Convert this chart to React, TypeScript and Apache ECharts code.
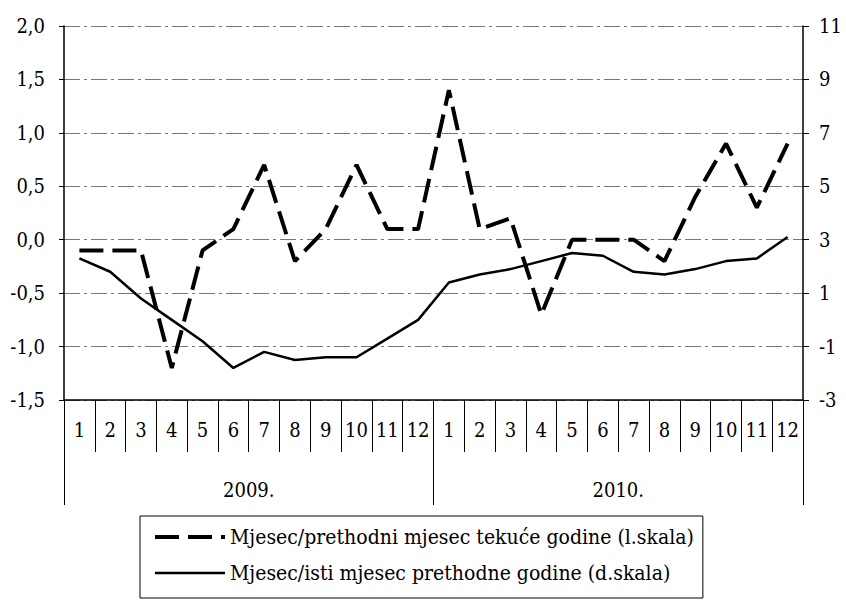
import React, { useEffect, useRef } from "react";
import * as echarts from "echarts";

const categories = [
  "2009-1", "2009-2", "2009-3", "2009-4", "2009-5", "2009-6",
  "2009-7", "2009-8", "2009-9", "2009-10", "2009-11", "2009-12",
  "2010-1", "2010-2", "2010-3", "2010-4", "2010-5", "2010-6",
  "2010-7", "2010-8", "2010-9", "2010-10", "2010-11", "2010-12",
];
const monthLabels = [
  "1", "2", "3", "4", "5", "6", "7", "8", "9", "10", "11", "12",
  "1", "2", "3", "4", "5", "6", "7", "8", "9", "10", "11", "12",
];
const years = ["2009.", "2010."];

const momValues = [
  -0.1, -0.1, -0.1, -1.2, -0.1, 0.1, 0.7, -0.2, 0.1, 0.7, 0.1, 0.1,
  1.4, 0.1, 0.2, -0.7, 0.0, 0.0, 0.0, -0.2, 0.4, 0.9, 0.3, 0.9,
];
const yoyValues = [
  2.3, 1.8, 0.8, 0.0, -0.8, -1.8, -1.2, -1.5, -1.4, -1.4, -0.7, 0.0,
  1.4, 1.7, 1.9, 2.2, 2.5, 2.4, 1.8, 1.7, 1.9, 2.2, 2.3, 3.1,
];

const seriesNames = [
  "Mjesec/prethodni mjesec tekuće godine (l.skala)",
  "Mjesec/isti mjesec prethodne godine (d.skala)",
];

const FONT = "'DejaVu Serif Condensed', 'DejaVu Serif', serif";
const DASH = [24, 9];

export default function App() {
  const ref = useRef<HTMLDivElement>(null);

  useEffect(() => {
    if (!ref.current) return;
    const chart = echarts.init(ref.current, undefined, { renderer: "svg" });
    const text = { fontFamily: FONT, fontSize: 20, color: "#000" };
    chart.setOption({
      animation: false,
      backgroundColor: "#fff",
      textStyle: { fontFamily: FONT },
      grid: { left: 64, right: 43, top: 26, bottom: 200, containLabel: false },
      legend: {
        orient: "vertical",
        left: 140,
        top: 516,
        padding: [9, 9, 13, 13],
        itemGap: 12,
        itemWidth: 70,
        itemHeight: 14,
        borderColor: "#000",
        borderWidth: 1,
        borderRadius: 0,
        textStyle: { ...text, fontSize: 21, lineHeight: 24 },
        itemStyle: { opacity: 0, borderWidth: 0 },
        data: [
          {
            name: seriesNames[0],
            lineStyle: { width: 4, type: DASH, color: "#000", cap: "butt" },
          },
          {
            name: seriesNames[1],
            lineStyle: { width: 2.5, type: "solid", color: "#000" },
          },
        ],
      },
      xAxis: [
        {
          type: "category",
          data: categories,
          position: "bottom",
          boundaryGap: true,
          axisLine: {
            show: true,
            onZero: false,
            lineStyle: { color: "#000", width: 1.5 },
          },
          axisTick: {
            show: true,
            interval: 0,
            length: 52,
            lineStyle: { color: "#000", width: 1 },
          },
          axisLabel: {
            ...text,
            interval: 0,
            margin: 20,
            formatter: (_v: string, i: number) => monthLabels[i],
          },
          splitLine: { show: false },
        },
        {
          type: "category",
          data: years,
          position: "bottom",
          boundaryGap: true,
          axisLine: { show: false, onZero: false },
          axisTick: {
            show: true,
            interval: 0,
            length: 105,
            lineStyle: { color: "#000", width: 1 },
          },
          axisLabel: { ...text, interval: 0, margin: 80 },
          splitLine: { show: false },
        },
      ],
      yAxis: [
        {
          type: "value",
          position: "left",
          min: -1.5,
          max: 2,
          interval: 0.5,
          axisLine: { show: true, onZero: false, lineStyle: { color: "#000", width: 1.5 } },
          axisTick: { show: true, length: 5, lineStyle: { color: "#000" } },
          axisLabel: {
            ...text,
            margin: 19,
            formatter: (v: number) => v.toFixed(1).replace(".", ","),
          },
          splitLine: {
            show: true,
            lineStyle: { color: "#777", width: 1, type: [16, 4, 3, 4] },
          },
        },
        {
          type: "value",
          position: "right",
          min: -3,
          max: 11,
          interval: 2,
          axisLine: { show: true, onZero: false, lineStyle: { color: "#000", width: 1.5 } },
          axisTick: { show: true, length: 6, lineStyle: { color: "#000" } },
          axisLabel: { ...text, margin: 16, formatter: (v: number) => String(v) },
          splitLine: { show: false },
        },
      ],
      series: [
        {
          name: seriesNames[0],
          type: "line",
          xAxisIndex: 0,
          yAxisIndex: 0,
          data: momValues,
          symbol: "none",
          lineStyle: { color: "#000", width: 4, type: DASH, cap: "butt" },
          itemStyle: { color: "#000" },
          z: 3,
        },
        {
          name: seriesNames[1],
          type: "line",
          xAxisIndex: 0,
          yAxisIndex: 1,
          data: yoyValues,
          symbol: "none",
          lineStyle: { color: "#000", width: 2.5, type: "solid" },
          itemStyle: { color: "#000" },
          z: 4,
        },
      ],
    });
    return () => chart.dispose();
  }, []);

  return (
    <div
      ref={ref}
      style={{ position: "absolute", left: 0, top: 0, width: 846, height: 600 }}
    />
  );
}
